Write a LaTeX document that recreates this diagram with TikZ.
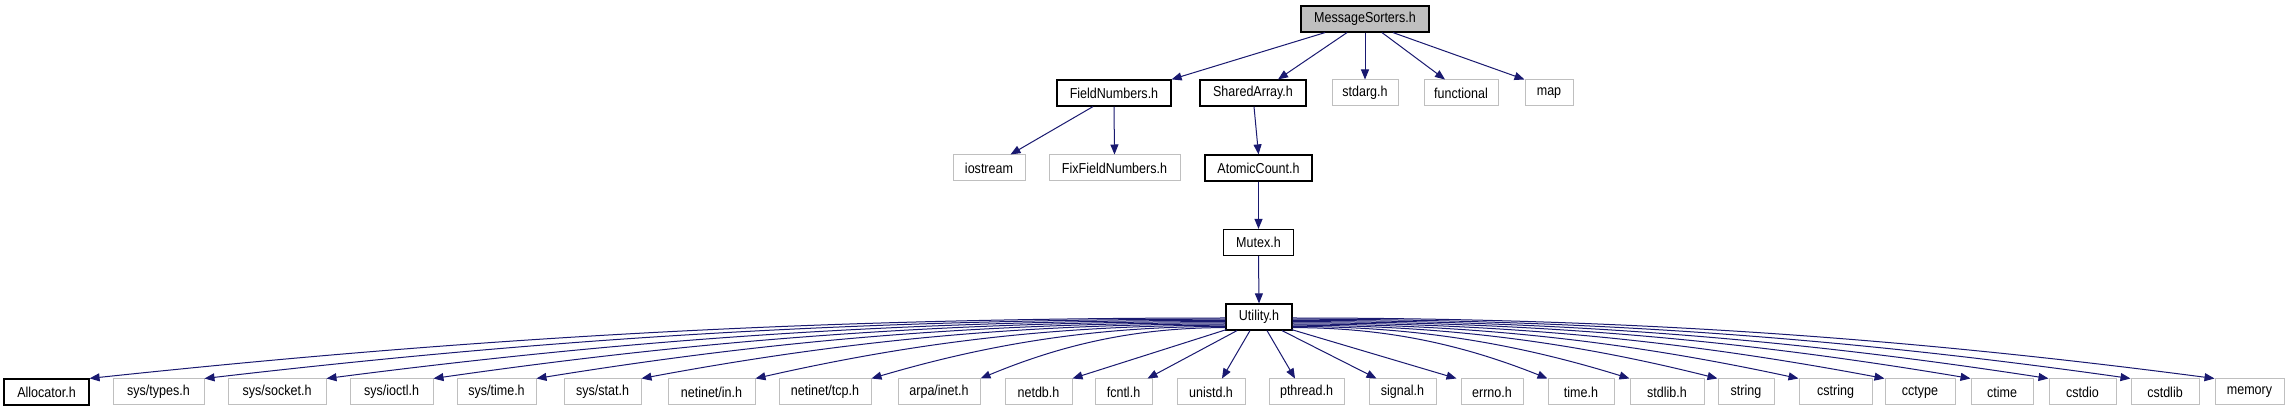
\documentclass[tikz,border=0pt]{standalone}
\usepackage{fontspec}
\setmainfont{Liberation Sans}[FakeStretch=0.87]
\usetikzlibrary{arrows.meta,calc}
\definecolor{edgecol}{HTML}{191970}
\definecolor{greyb}{HTML}{BFBFBF}
\newcommand\fanedge[2]{\draw[edge] let \p1=(#1), \p2=(#2) in (\p1) .. controls ({\x1+0.35*(\x2-\x1)},{\y1}) and ({\x2-0.35*(\x2-\x1)},{\y1+0.3*(\y2-\y1)}) .. (\p2);}
\begin{document}
\begin{tikzpicture}[x=1pt,y=-1pt,
  box/.style={draw=greyb, line width=1pt, fill=white, minimum height=26pt, inner sep=0pt, font=\fontsize{14.4}{16}\selectfont},
  dbox/.style={box, draw=black, line width=1.2pt},
  edge/.style={draw=edgecol, line width=1pt, -{Triangle[length=10pt,width=8pt]}}]
\useasboundingbox[fill=white] (0,0) rectangle (2289,411);
% top
\node[dbox, fill=greyb, minimum width=128pt] (ms) at (1365,19) {MessageSorters.h};
\node[dbox, minimum width=114pt] (fn) at (1114,93) {FieldNumbers.h};
\node[dbox, minimum width=106pt] (sa) at (1253,93) {SharedArray.h};
\node[box, minimum width=66pt] (sd) at (1365,93) {stdarg.h};
\node[box, minimum width=74pt] (fu) at (1461,93) {functional};
\node[box, minimum width=48pt] (mp) at (1549,93) {map};
\node[box, minimum width=72pt] (io) at (989,168) {iostream};
\node[box, minimum width=131pt] (ff) at (1114.5,168) {FixFieldNumbers.h};
\node[dbox, minimum width=107pt] (ac) at (1258.5,168) {AtomicCount.h};
\node[dbox, minimum width=70pt] (mu) at (1258.5,242.5) {Mutex.h};
\node[dbox, minimum width=66pt] (ut) at (1259,317) {Utility.h};
% bottom row
\node[dbox, minimum width=85pt] (al) at (46.5,392) {Allocator.h};
\node[box, minimum width=91pt] (st) at (158.5,392) {sys/types.h};
\node[box, minimum width=98pt] (ss) at (277,392) {sys/socket.h};
\node[box, minimum width=83pt] (si) at (391.5,392) {sys/ioctl.h};
\node[box, minimum width=79pt] (sm) at (496.5,392) {sys/time.h};
\node[box, minimum width=77pt] (sx) at (602.5,392) {sys/stat.h};
\node[box, minimum width=87pt] (ni) at (711.5,392) {netinet/in.h};
\node[box, minimum width=92pt] (nt) at (825,392) {netinet/tcp.h};
\node[box, minimum width=82pt] (ai) at (939,392) {arpa/inet.h};
\node[box, minimum width=67pt] (nd) at (1038.5,392) {netdb.h};
\node[box, minimum width=57pt] (fc) at (1123.5,392) {fcntl.h};
\node[box, minimum width=68pt] (un) at (1211,392) {unistd.h};
\node[box, minimum width=75pt] (pt) at (1306.5,392) {pthread.h};
\node[box, minimum width=67pt] (sg) at (1402.5,392) {signal.h};
\node[box, minimum width=62pt] (er) at (1492,392) {errno.h};
\node[box, minimum width=66pt] (th) at (1581,392) {time.h};
\node[box, minimum width=74pt] (sl) at (1667,392) {stdlib.h};
\node[box, minimum width=56pt] (sr) at (1746,392) {string};
\node[box, minimum width=73pt] (cs) at (1835.5,392) {cstring};
\node[box, minimum width=70pt] (ct) at (1920,392) {cctype};
\node[box, minimum width=62pt] (cm) at (2002,392) {ctime};
\node[box, minimum width=67pt] (ci) at (2082.5,392) {cstdio};
\node[box, minimum width=68pt] (cl) at (2165,392) {cstdlib};
\node[box, minimum width=69pt] (me) at (2249.5,392) {memory};
% top edges
\draw[edge] ([xshift=-40pt]ms.south) -- (fn.north east);
\draw[edge] ([xshift=-18pt]ms.south) -- ([xshift=25pt]sa.north);
\draw[edge] (ms.south) -- (sd.north);
\draw[edge] ([xshift=17pt]ms.south) -- ([xshift=-16pt]fu.north);
\draw[edge] ([xshift=28pt]ms.south) -- (mp.north west);
\draw[edge] ([xshift=-21pt]fn.south) -- ([xshift=-15pt]io.north east);
\draw[edge] (fn.south) -- (ff.north);
\draw[edge] ([xshift=1pt]sa.south) -- (ac.north);
\draw[edge] (ac.south) -- (mu.north);
\draw[edge] (mu.south) -- (ut.north);
% fan to the left
\fanedge{[yshift=-1pt]ut.west}{al.north east}
\fanedge{[yshift=-2.2pt]ut.west}{st.north east}
\fanedge{[yshift=-3.4pt]ut.west}{ss.north east}
\fanedge{[yshift=-4.6pt]ut.west}{si.north east}
\fanedge{[yshift=-5.8pt]ut.west}{sm.north east}
\fanedge{[yshift=-7pt]ut.west}{sx.north east}
\fanedge{[yshift=-8.2pt]ut.west}{ni.north east}
\fanedge{[yshift=-9.4pt]ut.west}{nt.north east}
\fanedge{[yshift=-10.6pt]ut.west}{ai.north east}
\draw[edge] ([xshift=1pt,yshift=1pt]ut.south west) -- (nd.north east);
\draw[edge] ([xshift=-22pt]ut.south) -- ([xshift=-5pt]fc.north east);
\draw[edge] ([xshift=-9pt]ut.south) -- ([xshift=11pt]un.north);
\draw[edge] ([xshift=8pt]ut.south) -- ([xshift=-11.5pt]pt.north);
\draw[edge] ([xshift=23pt]ut.south) -- ([xshift=8pt]sg.north west);
\draw[edge] ([xshift=-1pt,yshift=1pt]ut.south east) -- ([xshift=-4pt]er.north west);
% fan to the right
\fanedge{[yshift=-10.6pt]ut.east}{th.north west}
\fanedge{[yshift=-9.4pt]ut.east}{sl.north west}
\fanedge{[yshift=-8.2pt]ut.east}{sr.north west}
\fanedge{[yshift=-7pt]ut.east}{cs.north west}
\fanedge{[yshift=-5.8pt]ut.east}{ct.north west}
\fanedge{[yshift=-4.6pt]ut.east}{cm.north west}
\fanedge{[yshift=-3.4pt]ut.east}{ci.north west}
\fanedge{[yshift=-2.2pt]ut.east}{cl.north west}
\fanedge{[yshift=-1pt]ut.east}{me.north west}
\end{tikzpicture}
\end{document}
